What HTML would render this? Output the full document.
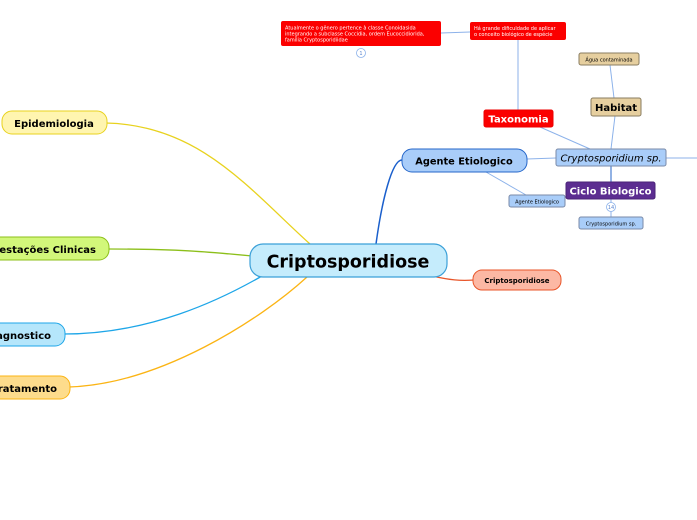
<!DOCTYPE html>
<html><head><meta charset="utf-8"><style>
html,body{margin:0;padding:0;background:#fff;width:697px;height:520px;overflow:hidden}
svg{display:block}
text{font-family:"DejaVu Sans","Liberation Sans",sans-serif}
</style></head><body>
<svg width="697" height="520" viewBox="0 0 697 520" xmlns="http://www.w3.org/2000/svg">
<path d="M106,123 C200,125 250,190 310,244" fill="none" stroke="#e8d21e" stroke-width="1.3"/>
<path d="M108,249 C180,249 210,252 252,256" fill="none" stroke="#8cbf1a" stroke-width="1.3"/>
<path d="M64,334 C150,334 220,300 262,276" fill="none" stroke="#1ea6e8" stroke-width="1.3"/>
<path d="M69,387 C160,384 260,320 307,277" fill="none" stroke="#fbb414" stroke-width="1.3"/>
<path d="M376,244 C382,200 392,160 402,160" fill="none" stroke="#1a5fcc" stroke-width="1.5"/>
<path d="M432,276 C450,280 460,281 474,280" fill="none" stroke="#e8562a" stroke-width="1.3"/>
<g stroke="#8cb2ea" stroke-width="1" fill="none">
<line x1="527" y1="159" x2="556" y2="158"/>
<line x1="486" y1="172" x2="526" y2="195"/>
<line x1="540" y1="127" x2="590" y2="149"/>
<line x1="518" y1="40" x2="518" y2="110"/>
<line x1="441" y1="33" x2="470" y2="32"/>
<line x1="611" y1="149" x2="615" y2="116"/>
<line x1="614" y1="98" x2="610" y2="65"/>
<line x1="666" y1="158" x2="697" y2="158"/>
</g>
<line x1="611" y1="166" x2="611" y2="182" stroke="#2566c9" stroke-width="1"/>
<line x1="611" y1="199" x2="611" y2="217" stroke="#8cb2ea" stroke-width="1"/>
<circle cx="611" cy="207" r="4.5" fill="#fff" stroke="#8cb2ea" stroke-width="0.8"/>
<text x="611" y="209" font-size="5" text-anchor="middle" fill="#5b86d0">14</text>
<circle cx="361" cy="53" r="4.5" fill="#fff" stroke="#8cb2ea" stroke-width="0.8"/>
<text x="361" y="55" font-size="5" text-anchor="middle" fill="#5b86d0">1</text>

<rect x="2" y="111" width="105" height="23" rx="10" fill="#fff5b0" stroke="#e8d21e"/>
<text x="54" y="127" font-size="10" font-weight="bold" text-anchor="middle">Epidemiologia</text>
<rect x="-20" y="237" width="129" height="23" rx="10" fill="#d2f77a" stroke="#8cbf1a"/>
<text x="96" y="253" font-size="10" font-weight="bold" text-anchor="end">Manifestações Clinicas</text>
<rect x="-20" y="323" width="85" height="23" rx="10" fill="#b5e6fb" stroke="#1ea6e8"/>
<text x="51" y="339" font-size="10" font-weight="bold" text-anchor="end">Diagnostico</text>
<rect x="-20" y="376" width="90" height="23" rx="10" fill="#fddc8c" stroke="#fbb414"/>
<text x="57" y="392" font-size="10" font-weight="bold" text-anchor="end">Tratamento</text>

<rect x="250" y="244" width="197" height="33" rx="13" fill="#c5ecfc" stroke="#3ba0d8" stroke-width="1.2"/>
<text x="348" y="267.5" font-size="17.5" font-weight="bold" text-anchor="middle">Criptosporidiose</text>

<rect x="402" y="149" width="125" height="23" rx="10" fill="#a9cdf9" stroke="#2566c9"/>
<text x="464" y="164.5" font-size="9.8" font-weight="bold" text-anchor="middle">Agente Etiologico</text>

<rect x="473" y="270" width="88" height="20" rx="9" fill="#fcb8a4" stroke="#e8562a"/>
<text x="517" y="283" font-size="7" font-weight="bold" text-anchor="middle">Criptosporidiose</text>

<rect x="556" y="149" width="110" height="17" rx="2" fill="#a9cdf9" stroke="#7a8aa8"/>
<text x="611" y="161.5" font-size="10" font-style="italic" text-anchor="middle">Cryptosporidium sp.</text>

<rect x="484" y="110" width="69" height="17" rx="2" fill="#fb0000" stroke="#e00"/>
<text x="518.5" y="122.5" font-size="10" font-weight="bold" fill="#fff" text-anchor="middle">Taxonomia</text>

<rect x="591" y="98" width="50" height="18" rx="2" fill="#e6cf9f" stroke="#8a7d60"/>
<text x="616" y="111" font-size="10" font-weight="bold" text-anchor="middle">Habitat</text>

<rect x="579" y="53" width="60" height="12" rx="2" fill="#e6cf9f" stroke="#8a7d60"/>
<text x="609" y="61.5" font-size="5" text-anchor="middle">Água contaminada</text>

<rect x="566" y="182" width="89" height="17" rx="2" fill="#5c2d91" stroke="#4a2377"/>
<text x="610.5" y="194.5" font-size="10" font-weight="bold" fill="#fff" text-anchor="middle">Ciclo Biologico</text>

<rect x="509" y="195" width="56" height="12" rx="2" fill="#a9cdf9" stroke="#7a8aa8"/>
<text x="537" y="203.5" font-size="5" text-anchor="middle">Agente Etiologico</text>

<rect x="579" y="217" width="64" height="12" rx="2" fill="#a9cdf9" stroke="#7a8aa8"/>
<text x="611" y="225.5" font-size="5" text-anchor="middle">Cryptosporidium sp.</text>

<rect x="281" y="21" width="160" height="25" rx="2" fill="#fb0000"/>
<text font-size="5" fill="#fff"><tspan x="285" y="29.5">Atualmente o gênero pertence à classe Conoidasida</tspan><tspan x="285" y="35.5">integrando a subclasse Coccidia, ordem Eucoccidiorida,</tspan><tspan x="285" y="41.5">família Cryptosporidiidae</tspan></text>

<rect x="470" y="22" width="96" height="18" rx="2" fill="#fb0000"/>
<text font-size="5" fill="#fff"><tspan x="474" y="30">Há grande dificuldade de aplicar</tspan><tspan x="474" y="36">o conceito biológico de espécie</tspan></text>
</svg>
</body></html>
